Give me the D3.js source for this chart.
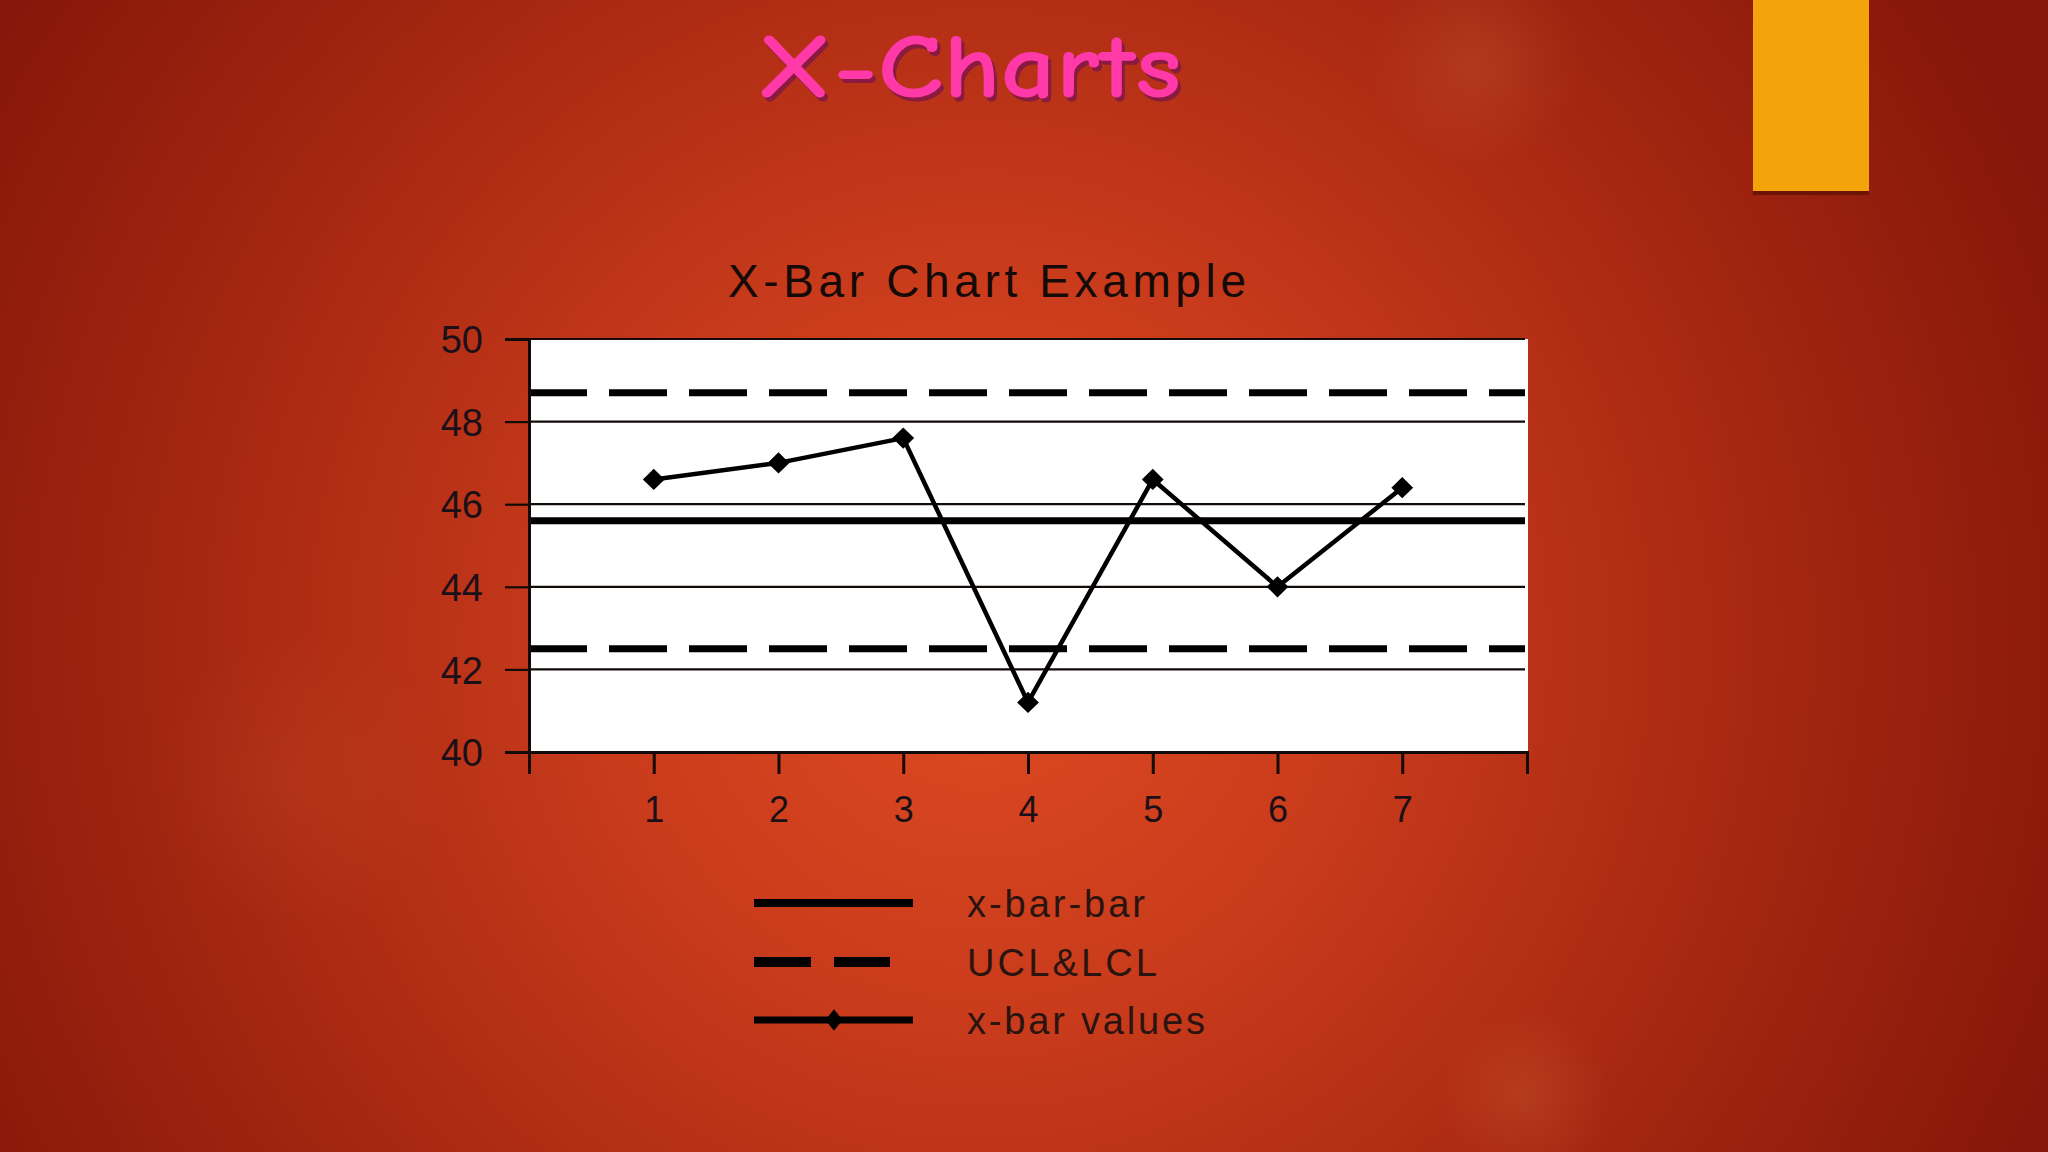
<!DOCTYPE html>
<html>
<head>
<meta charset="utf-8">
<script src="https://cdn.jsdelivr.net/npm/d3@7"></script>
<style>
  html, body { margin: 0; padding: 0; background: #8a1a0b; overflow: hidden; }
  svg { display: block; }
</style>
</head>
<body>
<svg id="slide" width="2048" height="1152"></svg>
<script>
  // chart data
  const samples = [1, 2, 3, 4, 5, 6, 7];
  const xbarValues = [46.6, 47.0, 47.6, 41.2, 46.6, 44.0, 46.4];
  const xbarbar = 45.6;
  const ucl = 48.7;
  const lcl = 42.5;
  const yTicks = [40, 42, 44, 46, 48, 50];
  const xTicks = [0, 1, 2, 3, 4, 5, 6, 7, 8];
  const legendLabels = ['x-bar-bar', 'UCL&LCL', 'x-bar values'];

  const svg = d3.select('#slide');
  const W = 2048, H = 1152;
  const defs = svg.append('defs');

  // slide background
  const bg = defs.append('radialGradient')
    .attr('id', 'bg').attr('gradientUnits', 'userSpaceOnUse')
    .attr('cx', 980).attr('cy', 640).attr('r', 1150);
  bg.append('stop').attr('offset', 0).attr('stop-color', '#e04b22');
  bg.append('stop').attr('offset', 0.35).attr('stop-color', '#c73a1b');
  bg.append('stop').attr('offset', 0.7).attr('stop-color', '#a42610');
  bg.append('stop').attr('offset', 1).attr('stop-color', '#86170a');
  svg.append('rect').attr('width', W).attr('height', H).attr('fill', 'url(#bg)');

  const blob = defs.append('radialGradient').attr('id', 'blob');
  blob.append('stop').attr('offset', 0).attr('stop-color', '#ffb070').attr('stop-opacity', 0.12);
  blob.append('stop').attr('offset', 1).attr('stop-color', '#ffb070').attr('stop-opacity', 0);
  [[1476, 62, 105], [1525, 1095, 85], [300, 780, 150]].forEach(([cx, cy, r], i) => {
    svg.append('circle').attr('cx', cx).attr('cy', cy).attr('r', r)
      .attr('fill', 'url(#blob)').attr('opacity', i === 2 ? 0.5 : 1);
  });

  // orange accent tab
  svg.append('rect').attr('x', 1753).attr('y', 0).attr('width', 116).attr('height', 195).attr('fill', '#6e1307');
  svg.append('rect').attr('x', 1753).attr('y', 0).attr('width', 116).attr('height', 191).attr('fill', '#f3a40b');

  // slide title
  const titleFont = "'Comic Sans MS', 'Comic Neue', 'Lato', sans-serif";
  [['#8a1a40', 972, 101], ['#ff3aa8', 969, 97]].forEach(([fill, tx, ty]) => {
    svg.append('text')
      .attr('x', tx).attr('y', ty)
      .attr('text-anchor', 'middle')
      .attr('font-family', titleFont).attr('font-size', 92).attr('font-weight', 'bold')
      .attr('textLength', 425).attr('lengthAdjust', 'spacingAndGlyphs')
      .attr('fill', fill)
      .text('X-Charts');
  });

  // chart
  const font = "'Liberation Sans', Arial, sans-serif";
  const ink = '#140a08';
  const plot = { left: 529, right: 1527, top: 339, bottom: 752 };

  const x = d3.scaleLinear().domain([0, 8]).range([plot.left, plot.right]);
  const y = d3.scaleLinear().domain([40, 50]).range([plot.bottom, plot.top]);

  svg.append('text')
    .attr('x', 987).attr('y', 297)
    .attr('text-anchor', 'middle')
    .attr('font-family', font).attr('font-size', 46)
    .attr('textLength', 518).attr('lengthAdjust', 'spacing')
    .attr('fill', ink)
    .text('X-Bar Chart Example');

  const g = svg.append('g');
  g.append('rect')
    .attr('x', plot.left).attr('y', plot.top)
    .attr('width', plot.right - plot.left + 1).attr('height', plot.bottom - plot.top)
    .attr('fill', '#ffffff');

  // gridlines
  g.append('g')
    .selectAll('line')
    .data(yTicks.filter(v => v > 40))
    .join('line')
    .attr('x1', plot.left).attr('x2', plot.right - 2)
    .attr('y1', d => y(d)).attr('y2', d => y(d))
    .attr('stroke', ink).attr('stroke-width', 2.2);

  // control limits
  g.append('g')
    .selectAll('line')
    .data([ucl, lcl])
    .join('line')
    .attr('x1', plot.left).attr('x2', plot.right - 2)
    .attr('y1', d => y(d)).attr('y2', d => y(d))
    .attr('stroke', '#000').attr('stroke-width', 7)
    .attr('stroke-dasharray', '58 22');

  // centre line
  g.append('line')
    .attr('x1', plot.left).attr('x2', plot.right - 2)
    .attr('y1', y(xbarbar)).attr('y2', y(xbarbar))
    .attr('stroke', '#000').attr('stroke-width', 7);

  // y axis
  const yAxis = d3.axisLeft(y).tickValues(yTicks).tickSize(24).tickPadding(22).tickFormat(d3.format('d'));
  const ya = g.append('g').attr('transform', `translate(${plot.left},0)`).call(yAxis);
  ya.select('.domain').attr('stroke', ink).attr('stroke-width', 3);
  ya.selectAll('.tick line').attr('stroke', ink).attr('stroke-width', 2.2);
  ya.selectAll('.tick text')
    .attr('font-family', font).attr('font-size', 38).attr('fill', '#1c1018')
    .attr('dy', '0.36em');

  // x axis
  const xAxis = d3.axisBottom(x).tickValues(xTicks).tickSize(22).tickPadding(22)
    .tickFormat(d => samples.includes(d) ? d : '');
  const xa = g.append('g').attr('transform', `translate(0,${plot.bottom})`).call(xAxis);
  xa.select('.domain').attr('stroke', ink).attr('stroke-width', 3);
  xa.selectAll('.tick line').attr('stroke', ink).attr('stroke-width', 3);
  xa.selectAll('.tick text')
    .attr('font-family', font).attr('font-size', 36).attr('fill', '#1c1018')
    .attr('dy', '0.71em');

  // x-bar series
  const series = samples.map((s, i) => ({ s, v: xbarValues[i] }));
  g.append('path')
    .datum(series)
    .attr('fill', 'none').attr('stroke', '#000').attr('stroke-width', 4.5)
    .attr('stroke-linejoin', 'round')
    .attr('d', d3.line().x(d => x(d.s)).y(d => y(d.v)));

  const diamond = d3.symbol().type(d3.symbolDiamond).size(160);
  g.append('g')
    .selectAll('path')
    .data(series)
    .join('path')
    .attr('transform', d => `translate(${x(d.s)},${y(d.v)}) scale(1.6,0.9)`)
    .attr('d', diamond)
    .attr('fill', '#000');

  // legend
  const lg = svg.append('g');
  const legendY = [903, 962, 1020];
  const legendLen = [178, 190, 238];
  const lx0 = 754, lx1 = 913;

  lg.append('line').attr('x1', lx0).attr('x2', lx1).attr('y1', legendY[0]).attr('y2', legendY[0])
    .attr('stroke', '#000').attr('stroke-width', 8);
  lg.append('line').attr('x1', lx0).attr('x2', 890).attr('y1', legendY[1]).attr('y2', legendY[1])
    .attr('stroke', '#000').attr('stroke-width', 10).attr('stroke-dasharray', '57 23');
  lg.append('line').attr('x1', lx0).attr('x2', lx1).attr('y1', legendY[2]).attr('y2', legendY[2])
    .attr('stroke', '#000').attr('stroke-width', 7);
  lg.append('path')
    .attr('transform', `translate(834,${legendY[2]}) scale(1.3,0.95)`)
    .attr('d', d3.symbol().type(d3.symbolDiamond).size(150))
    .attr('fill', '#000');

  lg.selectAll('text')
    .data(legendLabels)
    .join('text')
    .attr('x', 967)
    .attr('y', (d, i) => legendY[i] + 14)
    .attr('font-family', font).attr('font-size', 38)
    .attr('textLength', (d, i) => legendLen[i]).attr('lengthAdjust', 'spacing')
    .attr('fill', '#2a1410')
    .text(d => d);
</script>
</body>
</html>
